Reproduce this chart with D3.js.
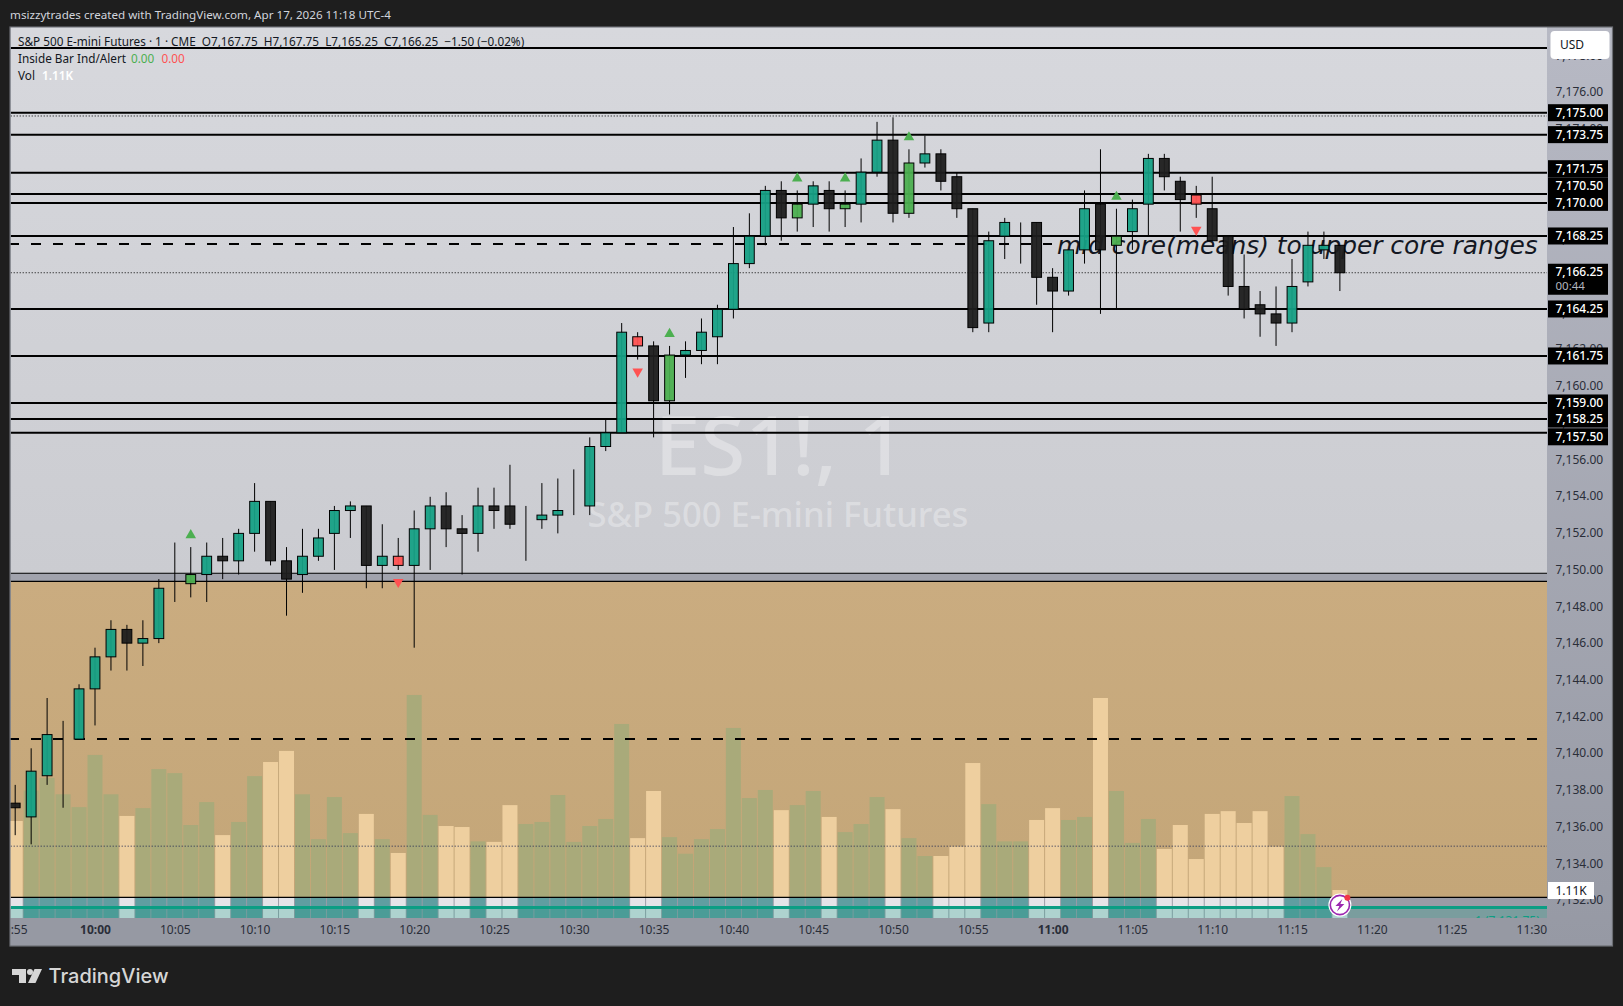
<!DOCTYPE html>
<html>
<head>
<meta charset="utf-8">
<title>ES1!, 1</title>
<script src="https://cdn.jsdelivr.net/npm/d3@7"></script>
<style>
  html, body { margin: 0; padding: 0; background: #1e1e1e; }
  svg { display: block; }
  text { white-space: pre; }
</style>
</head>
<body>
<div id="chart"></div>
<script>
// minutes after midnight of the first candle (9:55)
const firstMinute = 595;

const opens = [7137.25,7136.5,7138.75,7141,7140.75,7143.5,7145.25,7146.75,7146,7146.25,7149,7149.25,7149.75,7150.75,7150.5,7152,7153.75,7150.5,7149.75,7150.75,7152,7153.25,7153.5,7150.25,7150.75,7150.25,7152.25,7153.5,7152.25,7152,7153.5,7153.5,7152.75,7152.75,7153,7153.5,7153.5,7156.75,7157.5,7162.75,7162.25,7159.25,7161.75,7162,7162.75,7164.25,7166.75,7168.25,7170.75,7169.25,7170,7170.75,7169.75,7170,7171.75,7173.5,7169.5,7172.25,7172.75,7171.5,7169.75,7163.5,7168.25,7169,7169,7166,7165.25,7167.5,7170,7167.75,7168.5,7170,7172.5,7171.25,7170.5,7169.75,7168.25,7165.5,7164.5,7164,7163.5,7165.75,7167.5,7167.75];
const highs = [7138.25,7140.25,7143,7141.75,7143.75,7145.75,7147.25,7147,7147.25,7149.5,7151.5,7151.25,7151.5,7151.75,7152.25,7154.75,7153.75,7151.25,7152.25,7152.25,7153.5,7153.75,7153.5,7152.5,7151.75,7153.25,7154,7154.25,7153,7154.5,7154.5,7155.75,7153.5,7154.75,7155,7155.5,7157.25,7158.25,7163.5,7163,7162.5,7162.25,7162.5,7163.75,7164.5,7168.75,7169.5,7171,7171.25,7170.75,7171.25,7171.25,7170.75,7172.5,7174.5,7174.75,7173,7173.75,7173,7171.75,7169.75,7168.5,7169.25,7169,7169,7166.5,7167.5,7170.75,7173,7169.75,7170.25,7172.75,7172.75,7171.5,7171,7171.5,7168.25,7167.25,7165.25,7165.5,7167,7168.5,7168.5,7167.75];
const lows = [7135.5,7135,7138.25,7137,7140.75,7141.5,7144.5,7144.5,7144.75,7146,7148.25,7148.5,7148.25,7149.5,7149.75,7151,7150.25,7147.5,7148.75,7150.5,7150,7151.75,7149,7149,7150,7145.75,7150,7151.25,7149.75,7151,7152.25,7152.25,7150.5,7152.25,7152,7153,7153,7156.5,7157.5,7161.5,7157.25,7158.5,7160.5,7161.25,7161.25,7163.75,7166.5,7167.75,7168,7168.5,7168.75,7168.5,7168.75,7169,7171.5,7169,7169.25,7172,7170.75,7169.25,7163,7163,7167,7166.75,7164.5,7163,7165,7166.75,7164,7164.25,7167.5,7168.25,7170.75,7168.5,7169.25,7168,7165,7163.75,7162.75,7162.25,7163,7165.5,7167,7165.25];
const closes = [7137,7139,7141,7141,7143.5,7145.25,7146.75,7146,7146.25,7149,7149,7149.75,7150.75,7150.5,7152,7153.75,7150.5,7149.5,7150.75,7151.75,7153.25,7153.5,7150.25,7150.75,7150.25,7152.25,7153.5,7152.25,7152,7153.5,7153.25,7152.5,7152.75,7153,7153.25,7153.5,7156.75,7157.5,7163,7162.25,7159.25,7161.75,7162,7163,7164.25,7166.75,7168.25,7170.75,7169.25,7170,7171,7169.75,7170,7171.75,7173.5,7169.5,7172.25,7172.75,7171.25,7169.75,7163.25,7168,7169,7169,7166,7165.25,7167.5,7169.75,7167.5,7168.25,7169.75,7172.5,7171.5,7170.25,7170,7168,7165.5,7164.25,7164,7163.5,7165.5,7167.75,7167.75,7166.25];
// volume in thousands
const volumes = [3.85,5.06,5.56,4.91,4.40,6.47,4.91,4.05,4.36,5.91,5.75,3.69,4.60,3.29,3.81,5.63,6.19,6.63,4.91,3.13,4.80,3.37,4.13,3.13,2.58,8.85,4.09,3.65,3.61,3.04,3.02,4.48,3.73,3.81,4.88,3.02,3.65,3.93,7.70,3.17,5.04,3.21,2.55,3.13,3.53,7.54,4.76,5.08,4.28,4.48,5.04,4.01,3.41,3.73,4.80,4.32,3.17,2.46,2.46,2.83,6.15,4.52,3.04,3.04,3.89,4.36,3.89,4.01,8.73,5.04,2.98,3.93,2.74,3.69,2.34,4.13,4.24,3.77,4.24,2.83,4.84,3.33,2.02,1.11];

// Inside Bar Ind/Alert signals, minute of the candle
const insideUp = [606, 636, 644, 647, 651, 664];
const insideDown = [619, 634, 669];

const levelPrices = [7178.54,7175,7173.8,7171.72,7170.55,7170.06,7168.26,7164.27,7161.7,7159.13,7158.25,7157.5];
const levelLabels = ["","7,175.00","7,173.75","7,171.75","7,170.50","7,170.00","7,168.25","7,164.25","7,161.75","7,159.00","7,158.25","7,157.50"];
const dottedPrices = [7174.82, 7166.25];
const dashedPrices = [7167.82, 7140.76];
const bandPrices = [7149.82, 7149.38];
const lowerDotted = 7134.9;
const volumeLine = 7132.1;
const positionPrice = 7131.55;
const lastPrice = 7166.25;

const yTicks = [7178,7176,7174,7172,7170,7168,7166,7164,7162,7160,7158,7156,7154,7152,7150,7148,7146,7144,7142,7140,7138,7136,7134,7132];
const xTicks = [595,600,605,610,615,620,625,630,635,640,645,650,655,660,665,670,675,680,685,690];

const width = 1623, height = 1006;
const plot = {left: 10.7, right: 1547, top: 27.5, bottom: 918};
const uiFont = "'Noto Sans', sans-serif";

const x = d3.scaleLinear().domain([600, 690]).range([95, 1531.4]);
const y = d3.scaleLinear().domain([7175, 7132]).range([112.7, 899.2]);
// scale labels sit a touch wider apart than the snapped candles
const yLabels = d3.scaleLinear().domain([7176, 7132]).range([92, 900]);
// volume sits on the bottom edge of the pane
const v = d3.scaleLinear().domain([0, 1]).range([plot.bottom, plot.bottom - 25.2]);

const candles = opens.map((o, i) => ({
    minute: firstMinute + i, o: o, h: highs[i], l: lows[i], c: closes[i], vol: volumes[i]
}));

const svg = d3.select("#chart").append("svg").attr("width", width).attr("height", height)
    .style("font-family", uiFont);
const defs = svg.append("defs");

const gradient = (id, stops) => {
    const g = defs.append("linearGradient").attr("id", id).attr("x1", 0).attr("x2", 0).attr("y1", 0).attr("y2", 1);
    stops.forEach((s, i) => g.append("stop").attr("offset", i / (stops.length - 1)).attr("stop-color", s));
}
gradient("paneBg", ["#d7d8dd", "#cbccd1"]);
gradient("tanBg", ["#caac80", "#c4a678"]);
gradient("scaleBg", ["#b7b9c4", "#9699a4"]);

defs.append("clipPath").attr("id", "plotClip").append("rect")
    .attr("x", plot.left).attr("y", plot.top)
    .attr("width", plot.right - plot.left).attr("height", plot.bottom - plot.top);
defs.append("clipPath").attr("id", "timeClip").append("rect")
    .attr("x", plot.left).attr("y", plot.bottom)
    .attr("width", 1600).attr("height", 30);

// header
svg.append("text").attr("x", 10).attr("y", 19).attr("font-size", 11.65).attr("fill", "#d1d4dc")
    .text("msizzytrades created with TradingView.com, Apr 17, 2026 11:18 UTC-4");

// frame and backgrounds
svg.append("rect").attr("x", 10).attr("y", 27).attr("width", 1602.5).attr("height", 919)
    .attr("fill", "url(#scaleBg)").attr("stroke", "#6c6e74").attr("stroke-width", 1.2);
svg.append("rect").attr("x", plot.left).attr("y", plot.bottom).attr("width", plot.right - plot.left).attr("height", 27)
    .attr("fill", "#9699a3");

const chart = svg.append("g").attr("clip-path", "url(#plotClip)");

chart.append("rect").attr("x", plot.left).attr("y", plot.top)
    .attr("width", plot.right - plot.left).attr("height", y(bandPrices[0]) - plot.top)
    .attr("fill", "url(#paneBg)");
chart.append("rect").attr("x", plot.left).attr("y", y(bandPrices[0]))
    .attr("width", plot.right - plot.left).attr("height", y(bandPrices[1]) - y(bandPrices[0]))
    .attr("fill", "#a1a3ad");
chart.append("rect").attr("x", plot.left).attr("y", y(bandPrices[1]))
    .attr("width", plot.right - plot.left).attr("height", y(volumeLine) - y(bandPrices[1]))
    .attr("fill", "url(#tanBg)");
chart.append("rect").attr("x", plot.left).attr("y", y(volumeLine))
    .attr("width", plot.right - plot.left).attr("height", y(positionPrice) - y(volumeLine))
    .attr("fill", "#999ba6");
chart.append("rect").attr("x", plot.left).attr("y", y(positionPrice))
    .attr("width", plot.right - plot.left).attr("height", plot.bottom - y(positionPrice))
    .attr("fill", "#7a9d9e");

// watermark
chart.append("text").attr("x", 780).attr("y", 475).attr("text-anchor", "middle")
    .attr("font-size", 82).attr("font-weight", 500).attr("fill", "#ffffff").attr("fill-opacity", 0.32).text("ES1!, 1");
chart.append("text").attr("x", 778).attr("y", 527).attr("text-anchor", "middle")
    .attr("font-size", 34.6).attr("font-weight", 500).attr("fill", "#ffffff").attr("fill-opacity", 0.32).text("S&P 500 E-mini Futures");

// volume: the part over the pane, then the two strips under the black line
const isUp = d => d.c >= d.o && !insideDown.includes(d.minute);
const barX = d => x(d.minute) - 7.5;

chart.selectAll(".vol").data(candles).enter().append("rect")
    .attr("class", "vol")
    .attr("x", barX).attr("width", 15)
    .attr("y", d => v(d.vol))
    .attr("height", d => Math.max(0, y(volumeLine) - v(d.vol)))
    .attr("fill", d => isUp(d) ? "#a9aa7a" : "#eecf9f");
chart.selectAll(".volMid").data(candles).enter().append("rect")
    .attr("class", "volMid")
    .attr("x", barX).attr("width", 15)
    .attr("y", y(volumeLine))
    .attr("height", y(positionPrice) - y(volumeLine))
    .attr("fill", d => isUp(d) ? "#5f9ea1" : "#e4e4e8");
chart.selectAll(".volLow").data(candles).enter().append("rect")
    .attr("class", "volLow")
    .attr("x", barX).attr("width", 15)
    .attr("y", y(positionPrice))
    .attr("height", plot.bottom - y(positionPrice))
    .attr("fill", d => isUp(d) ? "#4b9c97" : "#aed3cf");

// position marker text, cut by the pane edge
chart.append("text").attr("x", 1475).attr("y", 925).attr("font-size", 12).attr("fill", "#0f9d83")
    .text("1 (7,131.75)");

// horizontal levels
chart.selectAll(".level").data(levelPrices).enter().append("line")
    .attr("class", "level")
    .attr("x1", plot.left).attr("x2", plot.right)
    .attr("y1", d => y(d)).attr("y2", d => y(d))
    .attr("stroke", "#000").attr("stroke-width", 2);

chart.selectAll(".dotted").data(dottedPrices).enter().append("line")
    .attr("class", "dotted")
    .attr("x1", plot.left).attr("x2", plot.right)
    .attr("y1", d => y(d)).attr("y2", d => y(d))
    .attr("stroke", "#000").attr("stroke-width", 1).attr("stroke-dasharray", "1 2");

chart.append("line").attr("x1", plot.left).attr("x2", plot.right)
    .attr("y1", y(lowerDotted)).attr("y2", y(lowerDotted))
    .attr("stroke", "#1a2450").attr("stroke-width", 1).attr("stroke-dasharray", "1 2");

chart.selectAll(".band").data(bandPrices.concat([volumeLine])).enter().append("line")
    .attr("class", "band")
    .attr("x1", plot.left).attr("x2", plot.right)
    .attr("y1", d => y(d)).attr("y2", d => y(d))
    .attr("stroke", "#000").attr("stroke-width", 1.2);

chart.selectAll(".dashed").data(dashedPrices).enter().append("line")
    .attr("class", "dashed")
    .attr("x1", 9).attr("x2", (d, i) => i == 0 ? 1052 : 1538)
    .attr("y1", d => y(d)).attr("y2", d => y(d))
    .attr("stroke", "#000").attr("stroke-width", 2).attr("stroke-dasharray", "10 12");

// position line
chart.append("line").attr("x1", plot.left).attr("x2", plot.right)
    .attr("y1", y(positionPrice)).attr("y2", y(positionPrice))
    .attr("stroke", "#0b9e84").attr("stroke-width", 3);

// annotation sits under the candles
chart.append("text").attr("x", 1057).attr("y", 254)
    .style("font-family", "'DejaVu Sans'").style("font-style", "italic")
    .attr("font-size", 24.85).attr("fill", "#131722")
    .text("mid core(means) to upper core ranges");

// candles
chart.selectAll(".wick").data(candles).enter().append("line")
    .attr("class", "wick")
    .attr("x1", d => x(d.minute)).attr("x2", d => x(d.minute))
    .attr("y1", d => y(d.h)).attr("y2", d => y(d.l))
    .attr("stroke", "#000").attr("stroke-width", 1);

const bodyFill = d => {
    if (insideUp.includes(d.minute)) return "#4caf50";
    if (insideDown.includes(d.minute)) return "#ff5252";
    return d.c >= d.o ? "#16a085" : "#1e1e1e";
}

chart.selectAll(".body").data(candles).enter().append("rect")
    .attr("class", "body")
    .attr("x", d => x(d.minute) - 4.9).attr("width", 9.8)
    .attr("y", d => y(Math.max(d.o, d.c)))
    .attr("height", d => Math.abs(y(d.o) - y(d.c)))
    .attr("fill", bodyFill).attr("fill-opacity", 0.95)
    .attr("stroke", "#000").attr("stroke-width", 1);

// signal triangles
const triangle = d3.symbol().type(d3.symbolTriangle).size(48);
const byMinute = m => candles[m - firstMinute];

chart.selectAll(".sigUp").data(insideUp).enter().append("path")
    .attr("class", "sigUp").attr("d", triangle).attr("fill", "#4caf50")
    .attr("transform", m => `translate(${x(m)},${y(byMinute(m).h) - 12})`);
chart.selectAll(".sigDown").data(insideDown).enter().append("path")
    .attr("class", "sigDown").attr("d", triangle).attr("fill", "#ff5252")
    .attr("transform", m => `translate(${x(m)},${y(byMinute(m).l) + 12}) rotate(180)`);

// legend
const legend = svg.append("g").attr("font-size", 11.75);
legend.append("text").attr("x", 18).attr("y", 46).attr("fill", "#131722")
    .text("S&P 500 E-mini Futures · 1 · CME  O7,167.75  H7,167.75  L7,165.25  C7,166.25  −1.50 (−0.02%)");
legend.append("text").attr("x", 18).attr("y", 63).attr("fill", "#131722").text("Inside Bar Ind/Alert");
legend.append("text").attr("x", 131).attr("y", 63).attr("fill", "#4caf50").text("0.00");
legend.append("text").attr("x", 161.5).attr("y", 63).attr("fill", "#ff5252").text("0.00");
legend.append("text").attr("x", 18).attr("y", 80).attr("fill", "#131722").text("Vol");
legend.append("text").attr("x", 42).attr("y", 80).attr("fill", "#ffffff").attr("font-weight", 600).text("1.11K");

// price scale
const yAxis = d3.axisRight(yLabels).tickValues(yTicks).tickSize(0).tickPadding(0).tickFormat(d3.format(",.2f"));
const yAxisG = svg.append("g").attr("transform", "translate(1555.5,0)").call(yAxis);
yAxisG.select(".domain").remove();
yAxisG.selectAll("text").style("font-family", uiFont).attr("font-size", 12).attr("fill", "#2a2e39");

// time scale
const timeLabel = m => Math.floor(m / 60) + ":" + d3.format("02")(m % 60);
const xAxis = d3.axisBottom(x).tickValues(xTicks).tickSize(0).tickPadding(0).tickFormat(timeLabel);
const xAxisG = svg.append("g").attr("clip-path", "url(#timeClip)")
    .append("g").attr("transform", "translate(0,925)").call(xAxis);
xAxisG.select(".domain").remove();
xAxisG.selectAll("text")
    .style("font-family", uiFont).attr("font-size", 12).attr("fill", "#2a2e39")
    .attr("font-weight", m => m % 60 == 0 ? 700 : 400);

// price labels on the scale, the close ones pushed apart as the platform does
const labelNudge = {"7,171.75": -4, "7,170.50": -8.3, "7,170.00": -0.7, "7,157.50": 4};
const labelled = levelPrices.map((p, i) => ({p: p, label: levelLabels[i]})).filter(d => d.label != "");
const labelY = d => y(d.p) + (labelNudge[d.label] || 0);

svg.selectAll(".lvlBox").data(labelled).enter().append("rect")
    .attr("class", "lvlBox")
    .attr("x", 1548).attr("width", 60).attr("y", d => labelY(d) - 8.5).attr("height", 17)
    .attr("fill", "#000");
svg.selectAll(".lvlText").data(labelled).enter().append("text")
    .attr("class", "lvlText")
    .attr("x", 1555.5).attr("y", d => labelY(d) + 4.3)
    .attr("font-size", 12).attr("font-weight", 500).attr("fill", "#fff")
    .text(d => d.label);

// last price with countdown
svg.append("rect").attr("x", 1548).attr("width", 60).attr("y", y(lastPrice) - 9).attr("height", 31).attr("fill", "#000");
svg.append("text").attr("x", 1555.5).attr("y", y(lastPrice) + 3.3).attr("font-size", 12).attr("font-weight", 500).attr("fill", "#fff")
    .text(d3.format(",.2f")(lastPrice));
svg.append("text").attr("x", 1555.5).attr("y", y(lastPrice) + 17.5).attr("font-size", 11.5).attr("fill", "#b2b5be").text("00:44");

// currency button
svg.append("rect").attr("x", 1550.5).attr("y", 31).attr("width", 59).attr("height", 28).attr("rx", 4).attr("fill", "#fff");
svg.append("text").attr("x", 1560).attr("y", 48.5).attr("font-size", 12).attr("fill", "#131722").text("USD");

// last volume label
svg.append("rect").attr("x", 1548).attr("y", 882).attr("width", 46).attr("height", 17).attr("fill", "#fff");
svg.append("text").attr("x", 1555.5).attr("y", 895).attr("font-size", 12).attr("fill", "#131722").text("1.11K");

// session icon on the last bar
const icon = svg.append("g").attr("transform", `translate(${x(678)},905)`);
icon.append("circle").attr("r", 11.5).attr("fill", "#fff");
icon.append("circle").attr("r", 9.6).attr("fill", "#fff").attr("stroke", "#9c27b0").attr("stroke-width", 1.6);
icon.append("path").attr("d", "M2.5,-6 L-4.5,1 L-0.5,1 L-3,6.5 L4.5,-1 L0.5,-1 Z").attr("fill", "#9c27b0");
icon.append("circle").attr("cx", 7.5).attr("cy", -7.2).attr("r", 3).attr("fill", "#f23645");

// logo
const logo = svg.append("g").attr("fill", "#d6d6d6");
logo.append("path").attr("d", "M12,969 H26 V983 H19 V975 H12 Z");
logo.append("circle").attr("cx", 30).attr("cy", 972).attr("r", 3);
logo.append("path").attr("d", "M34.5,969 H42 L35.5,983 H28 Z");
logo.append("text").attr("x", 48.5).attr("y", 983).style("font-family", "'Inter'")
    .attr("font-size", 20).attr("font-weight", 500).text("TradingView");
</script>
</body>
</html>
